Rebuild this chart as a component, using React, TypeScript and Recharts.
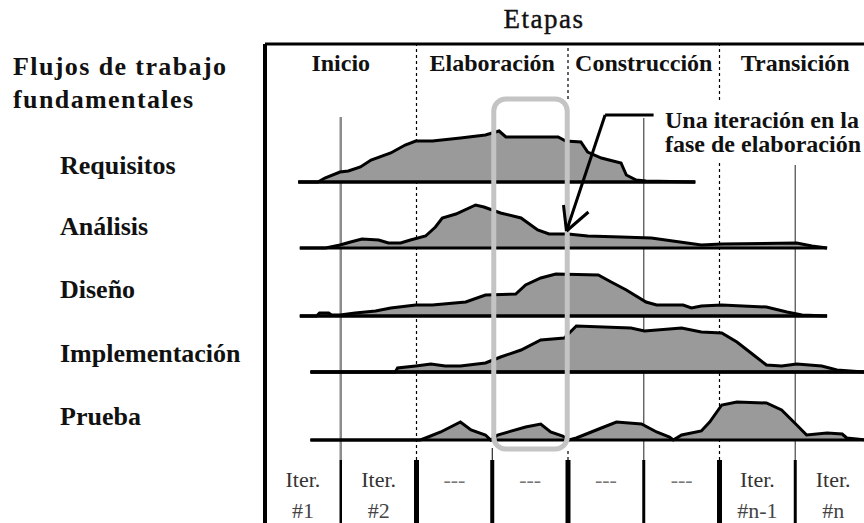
import React from "react"
import { ComposedChart, Area, XAxis, YAxis, ReferenceLine, ReferenceArea } from "recharts"

// x axis = iterations (0..8), y axis = effort level, each workflow on its own lane
const phases = ["Inicio", "Elaboración", "Construcción", "Transición"]
const workflows = ["Requisitos", "Análisis", "Diseño", "Implementación", "Prueba"]
const iterTop = ["Iter.", "Iter.", "---", "---", "---", "---", "Iter.", "Iter."]
const iterBottom = ["#1", "#2", "", "", "", "", "#n-1", "#n"]

// [iteration, effort]
const requisitos: [number, number][] = [
  [0.44, 0], [0.7, 0], [0.79, 4], [0.99, 10], [1.1, 11], [1.26, 15], [1.4, 22], [1.66, 29], [1.85, 37],
  [1.99, 41], [2.21, 41], [2.58, 44], [2.91, 47], [3.09, 51], [3.18, 45], [3.87, 45], [3.97, 41],
  [4.17, 40], [4.26, 30], [4.44, 24], [4.7, 19], [4.77, 7], [4.9, 2], [5.03, 1], [5.68, 0],
]
const analisis: [number, number][] = [
  [0.46, 0], [0.8, 0], [0.99, 3], [1.13, 6], [1.28, 9], [1.5, 8], [1.63, 5], [1.79, 5], [1.92, 8],
  [2.12, 12], [2.25, 21], [2.34, 30], [2.52, 34], [2.78, 43], [2.89, 41], [3.11, 35], [3.38, 30],
  [3.6, 18], [3.75, 14], [4.0, 14], [4.26, 12], [4.7, 11], [5.1, 10], [5.76, 3], [6.03, 4],
  [7.02, 5], [7.22, 2], [7.42, 0],
]
const diseno: [number, number][] = [
  [0.46, 0], [0.68, 0], [0.72, 3], [0.84, 3], [0.88, 1], [0.99, 1], [1.19, 3], [1.46, 5], [1.66, 8],
  [1.99, 11], [2.21, 11], [2.65, 14], [2.91, 21], [3.31, 22], [3.44, 31], [3.64, 38], [3.84, 42],
  [4.4, 41], [4.57, 34], [4.77, 26], [5.03, 14], [5.17, 11], [5.52, 11], [5.63, 8], [5.76, 10],
  [6.03, 11], [6.62, 9], [6.89, 4], [7.09, 1], [7.42, 0],
]
const implementacion: [number, number][] = [
  [0.6, 0], [1.72, 0], [1.75, 4], [1.99, 6], [2.19, 8], [2.38, 6], [2.58, 6], [2.91, 9], [3.11, 15],
  [3.38, 22], [3.64, 32], [3.95, 34], [4.11, 46], [4.83, 44], [5.01, 41], [5.5, 44], [5.76, 40],
  [6.03, 39], [6.23, 30], [6.45, 17], [6.62, 7], [6.82, 6], [7.02, 8], [7.35, 6], [7.55, 2],
  [7.93, 0], [8, 0],
]
const prueba: [number, number][] = [
  [0.6, 0], [2.05, 0], [2.12, 2], [2.32, 8], [2.58, 18], [2.72, 10], [2.91, 5], [2.98, 0], [3.07, 5],
  [3.44, 13], [3.64, 16], [3.77, 8], [3.93, 4], [4.01, 0], [4.11, 2], [4.44, 12], [4.64, 18],
  [4.97, 16], [5.17, 8], [5.34, 3], [5.39, 0], [5.5, 5], [5.76, 9], [5.87, 18], [6.03, 35],
  [6.23, 38], [6.62, 37], [6.82, 30], [7.02, 15], [7.15, 5], [7.42, 7], [7.62, 6], [7.68, 2],
  [7.93, 0], [8, 0],
]

const series = [requisitos, analisis, diseno, implementacion, prueba]
// lane baseline on the effort axis
const laneBase = [341, 275, 207, 151, 83]
const laneStroke = [3, 1.5, 3, 3.5, 1.5]

const W = 871
const H = 523
const LEFT = 265
const TOP = 44
const COL = (W - LEFT) / 8
const px = (u: number) => LEFT + u * COL

const margin = { top: TOP, left: LEFT, right: 0, bottom: 0 }
const serif = "'Liberation Serif', 'Times New Roman', serif"

function Axes() {
  return [
    <XAxis key="x" type="number" dataKey="t" domain={[0, 8]} hide allowDataOverflow />,
    <YAxis key="y" type="number" domain={[0, H - TOP]} hide allowDataOverflow />,
  ]
}

const seg = (x1: number, y1: number, x2: number, y2: number) => [
  { x: x1, y: y1 },
  { x: x2, y: y2 },
]

function Guides() {
  const dash = { stroke: "#000", strokeWidth: 1.2, strokeDasharray: "3 3" }
  const bottomW = [2.5, 5, 4, 5, 3, 5, 3]
  return (
    <ComposedChart width={W} height={H} margin={margin} data={[{ t: 0 }, { t: 8 }]}>
      {Axes()}
      <ReferenceLine segment={seg(1, 63, 1, 406)} stroke="#8c8c8c" strokeWidth={2.5} />
      <ReferenceLine segment={seg(2, 63, 2, 479)} {...dash} />
      <ReferenceLine segment={seg(3, 63, 3, 75)} stroke="#000" strokeWidth={1} />
      <ReferenceLine segment={seg(4, 424, 4, 479)} {...dash} />
      <ReferenceLine segment={seg(4, 63, 4, 75)} {...dash} />
      <ReferenceLine segment={seg(5, 63, 5, 405)} stroke="#555" strokeWidth={1.3} />
      <ReferenceLine segment={seg(6, 423, 6, 479)} {...dash} />
      <ReferenceLine segment={seg(6, 63, 6, 360)} {...dash} />
      <ReferenceLine segment={seg(7, 63, 7, 358)} stroke="#555" strokeWidth={1.3} />
      {bottomW.map((w, i) => (
        <ReferenceLine key={i} segment={seg(i + 1, 0, i + 1, 63)} stroke="#000" strokeWidth={w} />
      ))}
      <ReferenceLine segment={seg(0, 0, 0, 479)} stroke="#000" strokeWidth={4} />
      <ReferenceLine segment={seg(0, 479, 8, 479)} stroke="#000" strokeWidth={3} />
    </ComposedChart>
  )
}

function Humps() {
  return (
    <ComposedChart width={W} height={H} margin={margin}>
      {Axes()}
      {series.map((s, i) => {
        const base = laneBase[i]
        const data = s.map(([t, h]) => ({ t, h }))
        return (
          <Area
            key={workflows[i]}
            name={workflows[i]}
            data={data}
            dataKey={(d: { h: number }) => [base, base + d.h]}
            type="linear"
            stroke="#000"
            strokeWidth={3}
            strokeLinejoin="miter"
            fill="#9a9a9a"
            fillOpacity={1}
            isAnimationActive={false}
            dot={false}
            activeDot={false}
          />
        )
      })}
      {series.map((s, i) => (
        <ReferenceLine
          key={"b" + i}
          segment={seg(s[0][0], laneBase[i], s[s.length - 1][0], laneBase[i])}
          stroke="#000"
          strokeWidth={laneStroke[i]}
        />
      ))}
    </ComposedChart>
  )
}

function Callout() {
  const arrow = { stroke: "#000", strokeWidth: 3 }
  return (
    <ComposedChart width={W} height={H} margin={margin} data={[{ t: 0 }, { t: 8 }]}>
      {Axes()}
      <ReferenceArea x1={3.02} x2={3.99} y1={74} y2={424} fill="none" stroke="#c4c4c4" strokeWidth={5} radius={12} />
      <ReferenceLine segment={seg(4.49, 408, 5.13, 408)} {...arrow} />
      <ReferenceLine segment={seg(4.49, 408, 3.98, 292)} {...arrow} />
      <ReferenceLine segment={seg(3.94, 318, 3.98, 292)} {...arrow} />
      <ReferenceLine segment={seg(4.27, 311, 3.98, 292)} {...arrow} />
    </ComposedChart>
  )
}

const layer: React.CSSProperties = { position: "absolute", left: 0, top: 0 }

export default function App() {
  const labelY = [174, 235, 298, 362, 425]
  return (
    <div style={{ position: "fixed", left: 0, top: 0, width: 864, height: 523, overflow: "hidden", background: "#fff" }}>
      <div style={layer}><Guides /></div>
      <div style={layer}><Humps /></div>
      <div style={layer}><Callout /></div>
      <svg width={864} height={523} style={{ ...layer, pointerEvents: "none" }} fontFamily={serif}>
        <text x={544} y={28} fontSize={27} textAnchor="middle" letterSpacing={1.5} fill="#111" stroke="#111" strokeWidth={0.4}>Etapas</text>
        {phases.map((p, i) => (
          <text key={p} x={px(i * 2 + 1)} y={71} fontSize={24} fontWeight="bold" textAnchor="middle" fill="#111">{p}</text>
        ))}
        <text x={13} y={75} fontSize={26} fontWeight="bold" letterSpacing={1.4} fill="#111">Flujos de trabajo</text>
        <text x={13} y={108} fontSize={26} fontWeight="bold" letterSpacing={1.4} fill="#111">fundamentales</text>
        {workflows.map((w, i) => (
          <text key={w} x={60} y={labelY[i]} fontSize={26} fontWeight="bold" fill="#111">{w}</text>
        ))}
        <text x={665} y={128} fontSize={24} fontWeight="bold" fill="#111">Una iteración en la</text>
        <text x={665} y={152} fontSize={24} fontWeight="bold" fill="#111">fase de elaboración</text>
        {iterTop.map((t, i) => (
          <text key={"t" + i} x={px(i + 0.5)} y={487} fontSize={22} textAnchor="middle" fill={t === "---" ? "#777" : "#333"}>{t}</text>
        ))}
        {iterBottom.map((t, i) => (
          <text key={"b" + i} x={px(i + 0.5)} y={518} fontSize={22} textAnchor="middle" fill="#444">{t}</text>
        ))}
      </svg>
    </div>
  )
}
